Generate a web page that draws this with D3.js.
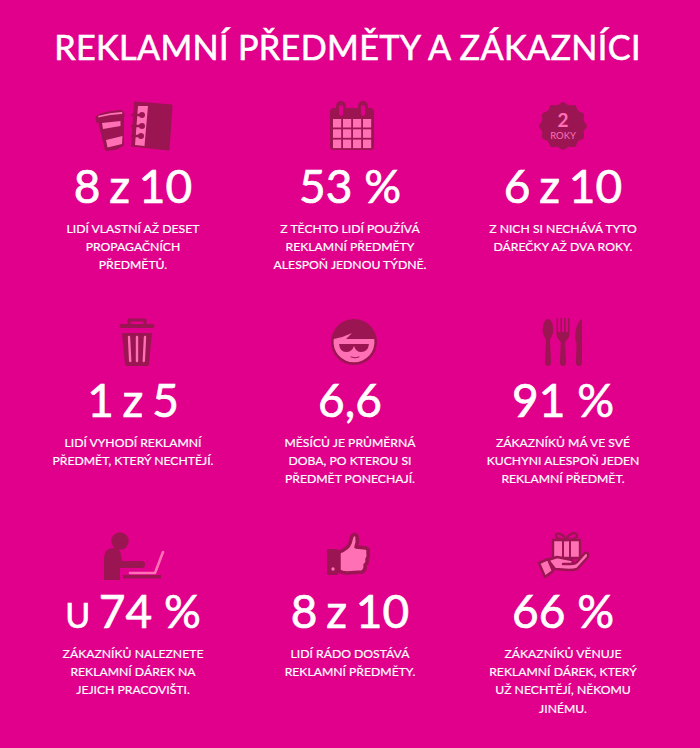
<!DOCTYPE html>
<html>
<head>
<meta charset="utf-8">
<script src="https://cdn.jsdelivr.net/npm/d3@7"></script>
<style>
html, body { margin: 0; padding: 0; background: #e0008c; }
svg { display: block; }
text { font-family: Lato, sans-serif; fill: #fff; stroke: #fff; text-anchor: middle; }
</style>
</head>
<body>
<svg id="chart" width="700" height="748"></svg>
<script>
const titleText = "REKLAMNÍ PŘEDMĚTY A ZÁKAZNÍCI"
const columns = [0, 1, 2]
const rows = [0, 1, 2]

const statPrefix = ["", "", "", "", "", "", "U ", "", ""]
const statFirst = ["8", "53 %", "6", "1", "6,6", "91 %", "74 %", "8", "66 %"]
const statMiddle = [" z ", "", " z ", " z ", "", "", "", " z ", ""]
const statLast = ["10", "", "10", "5", "", "", "", "10", ""]

const descriptions = [
    ["LIDÍ VLASTNÍ AŽ DESET", "PROPAGAČNÍCH", "PŘEDMĚTŮ."],
    ["Z TĚCHTO LIDÍ POUŽÍVÁ", "REKLAMNÍ PŘEDMĚTY", "ALESPOŇ JEDNOU TÝDNĚ."],
    ["Z NICH SI NECHÁVÁ TYTO", "DÁREČKY AŽ DVA ROKY."],
    ["LIDÍ VYHODÍ REKLAMNÍ", "PŘEDMĚT, KTERÝ NECHTĚJÍ."],
    ["MĚSÍCŮ JE PRŮMĚRNÁ", "DOBA, PO KTEROU SI", "PŘEDMĚT PONECHAJÍ."],
    ["ZÁKAZNÍKŮ MÁ VE SVÉ", "KUCHYNI ALESPOŇ JEDEN", "REKLAMNÍ PŘEDMĚT."],
    ["ZÁKAZNÍKŮ NALEZNETE", "REKLAMNÍ DÁREK NA", "JEJICH PRACOVIŠTI."],
    ["LIDÍ RÁDO DOSTÁVÁ", "REKLAMNÍ PŘEDMĚTY."],
    ["ZÁKAZNÍKŮ VĚNUJE", "REKLAMNÍ DÁREK, KTERÝ", "UŽ NECHTĚJÍ, NĚKOMU", "JINÉMU."]
]

const bg = "#e0008c"
const dark = "#9b1552"
const pink = "#ff70b4"

const svg = d3.select("#chart")
const xCol = d3.scaleOrdinal().domain(columns).range([133, 350, 563])
const yStat = d3.scaleOrdinal().domain(rows).range([203, 417, 628])
const yIcon = d3.scaleOrdinal().domain(rows).range([126, 342, 555])
const yDesc = d3.scaleLinear().domain([0, 1]).range([26, 44.2])

// little drawing helpers for the icons
var path = function(g, d, fill, stroke, sw) {
    return g.append("path").attr("d", d)
        .attr("fill", fill || "none")
        .attr("stroke", stroke || "none")
        .attr("stroke-width", sw || 0)
        .attr("stroke-linejoin", "round")
        .attr("stroke-linecap", "round")
}
var rect = function(g, x, y, w, h, fill, r) {
    return g.append("rect").attr("x", x).attr("y", y).attr("width", w).attr("height", h)
        .attr("rx", r || 0).attr("fill", fill)
}
var circ = function(g, x, y, r, fill) {
    return g.append("circle").attr("cx", x).attr("cy", y).attr("r", r).attr("fill", fill)
}

var drawCupBook = function(g) {
    // cup
    path(g, "M-35 -5 L-11 -9 L-11 19 Q-18 24 -28 24 Z", dark, dark, 2)
    path(g, "M-32 -3 L-13.5 -5 L-13.5 0 L-31 3 Z", pink)
    path(g, "M-28 14 L-11.5 10 L-12 18 L-26.5 21.5 Z", pink)
    path(g, "M-38 -9 Q-37 -13 -14 -15.5 Q-10 -15.5 -10 -11 L-10 -9 L-37 -4 Z", dark, dark, 1)
    path(g, "M-35 -9.5 Q-24 -12.5 -12.5 -13", null, pink, 1.8)
    // notebook
    path(g, "M1 -24 L38 -21 L35 24 L-2 20 Z", dark, dark, 1)
    path(g, "M4 -20 L14 -20 L10.5 20 L1 19 Z", pink)
    ;[[8, -11], [8, 0], [7, 10]].forEach(p => {
        path(g, `M-2 ${p[1]} L${p[0]} ${p[1]}`, null, dark, 2.4)
        circ(g, p[0], p[1], 3, dark)
    })
}

var drawCalendar = function(g) {
    rect(g, -22, -18, 44, 42, dark, 4)
    ;[-11, 11].forEach(v => {
        rect(g, v - 5, -25, 10, 16, dark, 5)
        rect(g, v - 2, -21, 4, 11, bg, 2)
    })
    d3.range(3).forEach(r => d3.range(4).forEach(c => {
        rect(g, -19 + c * 10, -7 + r * 10.3, 8.2, 8.5, pink)
    }))
}

var drawBadge = function(g) {
    const scallop = d3.range(0, 24).map(i => {
        const a = i / 24 * 2 * Math.PI
        const r = i % 2 ? 21.5 : 24
        return [r * Math.sin(a), -r * Math.cos(a)]
    })
    path(g, d3.line().curve(d3.curveCardinalClosed)(scallop), dark)
    g.append("text").attr("y", 1).style("font-size", "19px").style("font-weight", 700)
        .style("fill", pink).style("stroke", "none").text("2")
    g.append("text").attr("y", 12.5).style("font-size", "9.5px")
        .style("fill", pink).style("stroke", "none").text("ROKY")
}

var drawTrash = function(g) {
    path(g, "M-8 -17 L-8 -22 L8 -22 L8 -17", null, dark, 3)
    path(g, "M-15.5 -16 L15.5 -16", null, dark, 4)
    path(g, "M-15 -9 L15 -9 L12 22 Q12 24 10 24 L-10 24 Q-12 24 -12 22 Z", dark)
    ;[-8, 0, 8].forEach(v => path(g, `M${v} -5 L${v * 0.85} 19`, null, pink, 2.4))
}

var drawFace = function(g) {
    circ(g, 0, 0, 23, dark)
    path(g, "M-20.3 -3 Q-10 -5 -2 -9 L-8 -3 L20.3 -3 A20.5 20.5 0 1 1 -20.3 -3 Z", pink)
    path(g, "M-15 2 L15 2 Q14 10 7 10 Q2 10 0 4 Q-2 10 -8 10 Q-14 10 -15 2 Z", dark)
    path(g, "M-3 15 Q1 17 5 15", null, dark, 1)
}

var drawCutlery = function(g) {
    // spoon
    path(g, "M-15 -23 C-10 -23 -9 -12 -10 -9 C-11 -5 -13 -4 -13 -1 L-12 20 Q-12 24 -15 24 Q-18 24 -18 20 L-17 -1 C-17 -4 -19 -5 -20 -9 C-21 -12 -20 -23 -15 -23 Z", dark)
    // fork
    path(g, "M-6.5 -24 L-5 -24 L-5 -10 L-2.6 -10 L-2.6 -24 L-1 -24 L-1 -10 L1 -10 L1 -24 L2.6 -24 L2.6 -10 L5 -10 L5 -24 L6.5 -24 L6.5 -8 C6.5 -3 2.5 -2 2.2 1 L3 20 Q3 24 0 24 Q-3 24 -3 20 L-2.2 1 C-2.5 -2 -6.5 -3 -6.5 -8 Z", dark)
    // knife
    path(g, "M19 -24 L19 20 Q19 24 16 24 Q13 24 13 20 L13.6 3 Q14 0 12 -3 Q12 -17 19 -24 Z", dark)
}

var drawLaptopMan = function(g) {
    circ(g, -15, -14, 8.7, dark)
    path(g, "M-31 25 L-31 4 Q-31 -7 -21 -7 Q-15 -7 -14 0 L-13 6 L7 6 Q10 6 10 9.5 Q10 13 7 13 L-15 13 L-15 25 Z", dark)
    rect(g, -12, 20, 38, 3.4, dark)
    path(g, "M-5 18 L20 18 L28 -3", null, pink, 2.6)
}

var drawThumb = function(g) {
    rect(g, -23, -6, 11, 26, dark, 1.5)
    circ(g, -17, 14, 1.7, pink)
    path(g, "M-11 -3 Q-2 -6 0 -12 L2 -19 Q5 -22 7 -19 Q8 -13 6 -8 L16 -7 Q19 -6 18 -2 Q19 2 17 4 Q18 8 15 10 Q16 15 12 17 L-3 18 Q-8 18 -11 16 Z", pink, dark, 3.5)
}

var drawGift = function(g) {
    rect(g, -12, -15, 27, 18, pink)
    path(g, "M-12 -15 L15 -15 L15 3 L-12 3 Z", null, dark, 2.4)
    path(g, "M-2 -15 L-2 3 M5 -15 L5 3", null, dark, 2)
    path(g, "M1 -15 C-5 -15 -10 -17 -9 -20 C-8 -23 -1 -21 1 -15 C3 -21 10 -24 12 -20 C13 -17 8 -15 1 -15", null, dark, 2.4)
    path(g, "M-17 5 L-8 2 L7 5 Q9 8 6 9 L-2 9 L6 9 Q10 9 12 7 L20 -2 Q24 -3 23 2 L12 14 Q9 15 4 15 L-10 14 Z", pink, dark, 2.5)
    path(g, "M-26 8 L-17 4 L-12 16 L-20 22 Z", pink, dark, 2.5)
}

const iconDrawers = [drawCupBook, drawCalendar, drawBadge, drawTrash, drawFace, drawCutlery, drawLaptopMan, drawThumb, drawGift]
const iconShift = [1, 2, 0, 4, 4, 0, 2, 0, 2]

svg.append("rect").attr("width", 700).attr("height", 748).attr("fill", bg)

svg.append("text")
    .attr("x", 347.5).attr("y", 60)
    .style("font-size", "34.2px").style("stroke-width", 0.6).style("letter-spacing", "0.35px")
    .text(titleText)

const cells = svg.selectAll("g.cell")
    .data(d3.range(9))
    .join("g")
    .attr("class", "cell")
    .attr("transform", (i) => `translate(${xCol(i % 3)},0)`)

cells.append("g")
    .attr("transform", (i) => `translate(${iconShift[i]},${yIcon(Math.floor(i / 3))})`)
    .each(function(i) { iconDrawers[i](d3.select(this)) })

const stat = cells.append("text")
    .attr("y", (i) => yStat(Math.floor(i / 3)))
    .style("font-size", "46px")
    .style("stroke-width", 0.7)
stat.append("tspan").style("font-size", "34px").text((i) => statPrefix[i])
stat.append("tspan").text((i) => statFirst[i])
stat.append("tspan").text((i) => statMiddle[i]).style("word-spacing", "-3px")
stat.append("tspan").text((i) => statLast[i])

cells.selectAll("text.desc")
    .data((i) => descriptions[i].map((line, n) => ({line: line, n: n, i: i})))
    .join("text")
    .attr("class", "desc")
    .attr("y", (d) => yStat(Math.floor(d.i / 3)) + yDesc(d.n) + 4)
    .style("font-size", "12.2px")
    .style("stroke-width", 0.2)
    .text((d) => d.line)
</script>
</body>
</html>
